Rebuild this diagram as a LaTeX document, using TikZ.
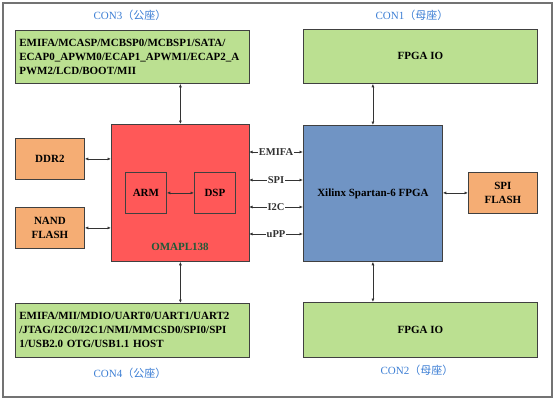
\documentclass[tikz,border=0pt]{standalone}
\usepackage{fontspec}
\setmainfont{Liberation Serif}
\newfontfamily\cjk{Noto Sans CJK SC}
\usetikzlibrary{arrows.meta}
\definecolor{boxgreen}{HTML}{BBE091}
\definecolor{boxred}{HTML}{FF5858}
\definecolor{boxorange}{HTML}{F5AD74}
\definecolor{boxblue}{HTML}{7094C4}
\definecolor{conblue}{HTML}{3C7ED4}
\definecolor{chipgreen}{HTML}{1F5A38}
\begin{document}
\begin{tikzpicture}[x=1pt,y=-1pt,line width=.8,
    blk/.style={draw=black!75,anchor=north west,inner sep=0,font=\bfseries\fontsize{11}{14}\selectfont,align=center},
    io/.style={blk,fill=boxgreen},
    mem/.style={blk,fill=boxorange},
    bus/.style={{Latex[length=3.5pt,width=3pt]}-{Latex[length=3.5pt,width=3pt]},black!80},
    con/.style={text=conblue,font=\fontsize{11}{12}\selectfont},
    sig/.style={fill=white,inner sep=1pt,font=\bfseries\fontsize{10.5}{11}\selectfont}]
    \useasboundingbox (0,0) rectangle (555,402);
    \draw[black!55,line width=1.4] (3,3) rectangle (552,397);
    \node[io,minimum width=234,minimum height=53,text width=226,align=left] (con3) at (15,30)
        {EMIFA/MCASP/MCBSP0/MCBSP1/SATA/\\ECAP0\_APWM0/ECAP1\_APWM1/ECAP2\_A\\PWM2/LCD/BOOT/MII};
    \node[io,minimum width=234,minimum height=54,text width=226,align=left] (con4) at (15,303)
        {EMIFA/MII/MDIO/UART0/UART1/UART2\\/JTAG/I2C0/I2C1/NMI/MMCSD0/SPI0/SPI\\1/USB2.0 OTG/USB1.1 HOST};
    \node[io,minimum width=234,minimum height=54] (con1) at (303,29) {FPGA IO};
    \node[io,minimum width=234,minimum height=55] (con2) at (303,302) {FPGA IO};
    \node[blk,fill=boxred,minimum width=138,minimum height=137] (omap) at (111,124) {};
    \node[blk,fill=boxred,minimum width=41,minimum height=41] (arm) at (125,172) {ARM};
    \node[blk,fill=boxred,minimum width=41,minimum height=41] (dsp) at (194,172) {DSP};
    \node[text=chipgreen,font=\bfseries\fontsize{11}{12}\selectfont] (omapname) at (180,247) {OMAPL138};
    \node[blk,fill=boxblue,minimum width=139,minimum height=136] (fpga) at (303,125) {Xilinx Spartan-6 FPGA};
    \node[mem,minimum width=69,minimum height=41] (ddr) at (15,138) {DDR2};
    \node[mem,minimum width=69,minimum height=41] (nand) at (15,207) {NAND\\FLASH};
    \node[mem,minimum width=69,minimum height=41] (spiflash) at (468,172) {SPI\\FLASH};
    \node[con] (lbl3) at (130,15) {CON3{\cjk（公座）}};
    \node[con] (lbl1) at (412,15) {CON1{\cjk（母座）}};
    \node[con] (lbl4) at (130,373) {CON4{\cjk（公座）}};
    \node[con] (lbl2) at (417,370) {CON2{\cjk（母座）}};
    \draw[bus] (con3.south -| omap.north) -- (omap.north);
    \draw[bus] (omap.south) -- (con4.north -| omap.south);
    \draw[bus] (con1.south -| fpga.north) -- (fpga.north);
    \draw[bus] (fpga.south) -- (con2.north -| fpga.south);
    \draw[bus] (ddr.east) -- (ddr.east -| omap.west);
    \draw[bus] (nand.east) -- (nand.east -| omap.west);
    \draw[bus] (arm.east) -- (dsp.west);
    \draw[bus] (fpga.east |- spiflash.west) -- (spiflash.west);
    \draw[bus] (249,152) -- node[sig] {EMIFA} (303,152);
    \draw[bus] (249,180) -- node[sig] {SPI} (303,180);
    \draw[bus] (249,207) -- node[sig] {I2C} (303,207);
    \draw[bus] (249,234) -- node[sig] {uPP} (303,234);
\end{tikzpicture}
\end{document}
